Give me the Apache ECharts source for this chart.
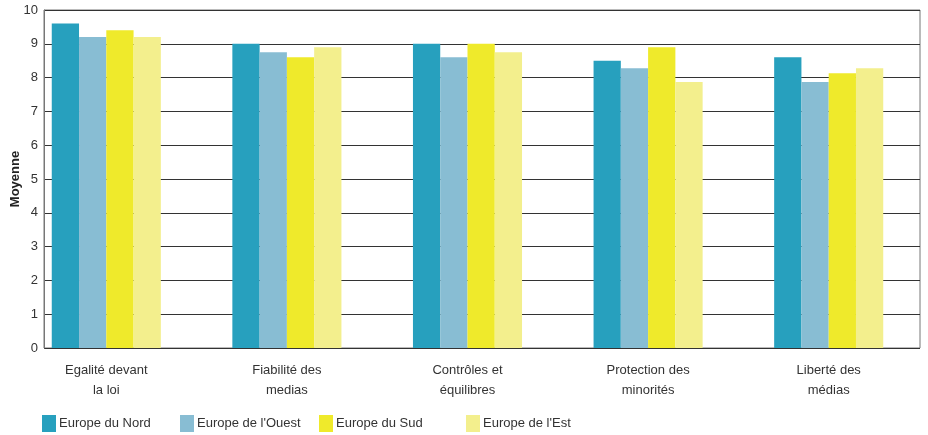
<!DOCTYPE html>
<html><head><meta charset="utf-8">
<script src="https://cdn.jsdelivr.net/npm/echarts@6/dist/echarts.min.js"></script>
<style>html,body{margin:0;padding:0;background:#fff}#c{width:928px;height:435px}</style>
</head><body><div id="c"></div>
<script>
const categories = ['Egalité devant\nla loi', 'Fiabilité des\nmedias', 'Contrôles et\néquilibres', 'Protection des\nminorités', 'Liberté des\nmédias'];
const seriesNames = ['Europe du Nord', "Europe de l'Ouest", 'Europe du Sud', "Europe de l'Est"];
const nord = [9.6, 9.0, 9.0, 8.5, 8.6];
const ouest = [9.2, 8.75, 8.6, 8.28, 7.87];
const sud = [9.4, 8.6, 9.0, 8.9, 8.13];
const est = [9.2, 8.9, 8.75, 7.87, 8.28];
const yTicks = [0,1,2,3,4,5,6,7,8,9,10];

const colors = ['#27a0be', '#88bdd3', '#efea2b', '#f3ef8d'];
const values = [nord, ouest, sud, est];
const font = 'Liberation Sans, Arial, sans-serif';
const legendLefts = [37, 175, 314, 461];

const chart = echarts.init(document.getElementById('c'));
chart.setOption({
  animation: false,
  textStyle: {fontFamily: font},
  grid: [
    {left: 44, right: 8, top: 10, bottom: 87, show: true, borderColor: '#777', borderWidth: 1, backgroundColor: 'transparent', containLabel: false, outerBoundsMode: 'none'},
    {left: 16, right: 9, top: 10, bottom: 87, containLabel: false, outerBoundsMode: 'none'}
  ],
  xAxis: [
    {gridIndex: 0, type: 'value', min: 0, max: 1, show: false},
    {gridIndex: 1, type: 'category', data: categories,
     axisLine: {show: false}, axisTick: {show: false},
     axisLabel: {fontSize: 13, color: '#333', lineHeight: 20, margin: 12, fontFamily: font}}
  ],
  yAxis: [
    {gridIndex: 0, type: 'value', min: yTicks[0], max: yTicks[yTicks.length-1], interval: 1,
     name: 'Moyenne', nameLocation: 'middle', nameGap: 22, nameRotate: 90, nameMoveOverlap: false,
     nameTextStyle: {fontSize: 13, fontWeight: 'bold', color: '#222', fontFamily: font},
     axisLine: {show: true, lineStyle: {color: '#777'}},
     axisTick: {show: false},
     axisLabel: {fontSize: 13, color: '#333', margin: 6, fontFamily: font},
     splitLine: {show: true, lineStyle: {color: '#333', width: 1}}},
    {gridIndex: 1, type: 'value', min: 0, max: 10, show: false, splitLine: {show: false}}
  ],
  legend: seriesNames.map((n, i) => ({
    data: [n], left: legendLefts[i], top: 410, itemWidth: 14, itemHeight: 17, itemGap: 0,
    icon: 'rect', textStyle: {fontSize: 13, color: '#333', fontFamily: font, padding: [0, 0, 0, -2]}, selectedMode: false
  })),
  series: seriesNames.map((n, i) => ({
    name: n, type: 'bar', xAxisIndex: 1, yAxisIndex: 1, data: values[i],
    itemStyle: {color: colors[i]}, barGap: '0%', barCategoryGap: '39.6%', z: 3
  }))
});
</script></body></html>
